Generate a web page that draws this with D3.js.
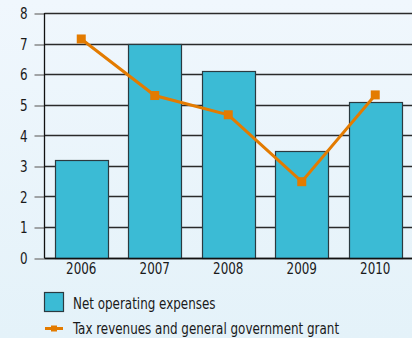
<!DOCTYPE html>
<html>
<head>
<meta charset="utf-8">
<script src="https://cdn.jsdelivr.net/npm/d3@7"></script>
<style>
  html, body { margin: 0; padding: 0; }
  body { width: 412px; height: 338px; overflow: hidden; }
  svg { display: block; }
  text { font-family: "DejaVu Sans Condensed", "DejaVu Sans", sans-serif; fill: #1a1a1a; }
</style>
</head>
<body>
<svg id="chart" width="412" height="338"></svg>
<script>
// Annual figures
const years = ["2006", "2007", "2008", "2009", "2010"];
const netOperatingExpenses = [3.2, 7.0, 6.1, 3.5, 5.1];
const taxRevenuesAndGrant = [7.15, 5.3, 4.67, 2.48, 5.32];
const yTicks = [0, 1, 2, 3, 4, 5, 6, 7, 8];
const legendLabels = ["Net operating expenses", "Tax revenues and general government grant"];

const W = 412, H = 338;
const margin = { left: 44.5, right: 0, top: 13, bottom: 81 };
const NARROW = 0.83; // horizontal squeeze for a narrow face

const svg = d3.select("#chart");

// soft blue backdrop
const defs = svg.append("defs");
const grad = defs.append("linearGradient").attr("id", "bg").attr("x1", 0).attr("y1", 0).attr("x2", 0).attr("y2", 1);
grad.append("stop").attr("offset", "0%").attr("stop-color", "#f0f7fd");
grad.append("stop").attr("offset", "100%").attr("stop-color", "#e4f2f9");
svg.append("rect").attr("width", W).attr("height", H).attr("fill", "url(#bg)");

const x = d3.scaleBand()
  .domain(years)
  .range([margin.left, W - margin.right])
  .paddingInner(0.28)
  .paddingOuter(0.14);

const y = d3.scaleLinear()
  .domain([0, 8])
  .range([H - margin.bottom + 0.5, margin.top]);

// narrow text placed at (px, py)
function label(g, px, py, str, anchor) {
  return g.append("text")
    .attr("transform", `translate(${px},${py}) scale(${NARROW},1)`)
    .attr("text-anchor", anchor || "start")
    .style("font-size", "16px")
    .text(str);
}

// horizontal grid lines
svg.append("g")
  .selectAll("line")
  .data(yTicks)
  .join("line")
  .attr("x1", margin.left)
  .attr("x2", W)
  .attr("y1", d => Math.round(y(d)) + 0.5)
  .attr("y2", d => Math.round(y(d)) + 0.5)
  .attr("stroke", "#2a2a2a")
  .attr("stroke-width", 1.3);

// y axis: ticks and labels
const yAxis = svg.append("g")
  .attr("transform", `translate(${margin.left},0)`)
  .call(d3.axisLeft(y).tickValues(yTicks).tickFormat(d3.format("d")).tickSize(10).tickPadding(7));
yAxis.select(".domain").remove();
yAxis.selectAll(".tick line").attr("stroke", "#777").attr("stroke-width", 1.3)
  .attr("transform", d => `translate(0,${Math.round(y(d)) + 0.5 - y(d)})`);
yAxis.selectAll(".tick text")
  .style("font-size", "16px")
  .attr("fill", "#1a1a1a")
  .attr("x", null)
  .attr("dy", "0.36em")
  .attr("transform", `translate(-17,0) scale(${NARROW},1)`);

// bars
svg.append("g")
  .selectAll("rect")
  .data(years.map((yr, i) => ({ yr, v: netOperatingExpenses[i] })))
  .join("rect")
  .attr("x", d => Math.round(x(d.yr)) + 0.5)
  .attr("y", d => Math.round(y(d.v)) + 0.5)
  .attr("width", Math.round(x.bandwidth()))
  .attr("height", d => Math.round(y(0)) - Math.round(y(d.v)))
  .attr("fill", "#3bbbd5")
  .attr("stroke", "#2b3a40")
  .attr("stroke-width", 1.2);

// vertical axis line and baseline
svg.append("line")
  .attr("x1", margin.left).attr("x2", margin.left)
  .attr("y1", y(8)).attr("y2", y(0) + 0.5)
  .attr("stroke", "#111").attr("stroke-width", 1.3);
svg.append("line")
  .attr("x1", margin.left).attr("x2", W)
  .attr("y1", Math.round(y(0)) + 0.5).attr("y2", Math.round(y(0)) + 0.5)
  .attr("stroke", "#111").attr("stroke-width", 1.4);

// x labels
const xl = svg.append("g");
years.forEach(yr => label(xl, x(yr) + x.bandwidth() / 2, 274, yr, "middle"));

// line series
const orange = "#e37b00";
const pts = years.map((yr, i) => [x(yr) + x.bandwidth() / 2, y(taxRevenuesAndGrant[i])]);
svg.append("path")
  .attr("d", d3.line()(pts))
  .attr("fill", "none")
  .attr("stroke", orange)
  .attr("stroke-width", 3);
svg.append("g")
  .selectAll("rect")
  .data(pts)
  .join("rect")
  .attr("x", d => d[0] - 4.5)
  .attr("y", d => d[1] - 4.5)
  .attr("width", 9)
  .attr("height", 9)
  .attr("fill", orange);

// legend
const lg = svg.append("g");
lg.append("rect")
  .attr("x", 44.5).attr("y", 292.5).attr("width", 19).attr("height", 19)
  .attr("fill", "#3bbbd5").attr("stroke", "#2b3a40").attr("stroke-width", 1.2);
label(lg, 73, 309, legendLabels[0]);
lg.append("line")
  .attr("x1", 45).attr("x2", 63).attr("y1", 328.5).attr("y2", 328.5)
  .attr("stroke", orange).attr("stroke-width", 3);
lg.append("rect")
  .attr("x", 51).attr("y", 325.5).attr("width", 6).attr("height", 6).attr("fill", orange);
label(lg, 73, 334, legendLabels[1]);
</script>
</body>
</html>
